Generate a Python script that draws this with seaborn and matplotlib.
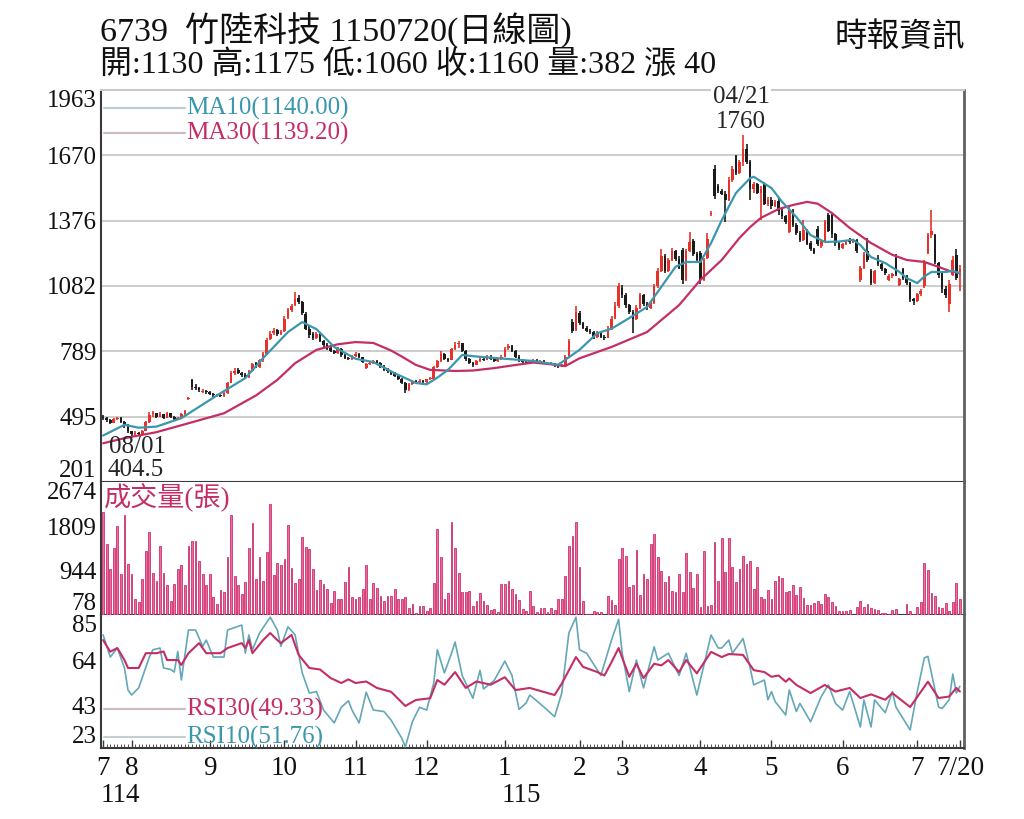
"""
Daily candlestick chart for 6739 竹陸科技 with volume and RSI panels.
"""

import matplotlib
matplotlib.use('Agg')
import matplotlib.pyplot as plt
import matplotlib.transforms as mtransforms
import seaborn as sns
import numpy as np

# ---------------------------------------------------------------- data
title_line = '6739  竹陸科技 1150720(日線圖)'
quote_line = '開:1130 高:1175 低:1060 收:1160 量:382 漲 40'
source_text = '時報資訊'

opens = [
    495, 490, 478, 468, 482, 488, 470, 455, 430, 415,
    422, 418, 432, 470, 505, 510, 495, 505, 490, 510,
    495, 485, 490, 505, 575, 660, 630, 625, 605, 612,
    605, 598, 588, 594, 588, 600, 648, 690, 705, 690,
    682, 672, 700, 735, 720, 748, 778, 845, 870, 885,
    865, 878, 940, 975, 995, 1030, 1010, 955, 890, 865,
    850, 865, 835, 815, 805, 790, 780, 800, 772, 760,
    755, 768, 775, 762, 712, 730, 735, 745, 735, 720,
    705, 698, 690, 678, 665, 645, 615, 640, 655, 650,
    655, 650, 662, 665, 718, 745, 775, 755, 750, 800,
    820, 825, 790, 752, 735, 728, 745, 755, 750, 765,
    755, 745, 752, 765, 805, 812, 790, 765, 748, 740,
    735, 745, 750, 740, 745, 735, 730, 735, 725, 722,
    728, 768, 920, 885, 960, 915, 895, 880, 875, 855,
    870, 855, 850, 890, 940, 990, 1075, 1040, 995, 965,
    935, 985, 1040, 1000, 985, 1005, 1080, 1150, 1215, 1150,
    1200, 1240, 1205, 1245, 1110, 1240, 1285, 1225, 1230, 1110,
    1210, 1405, 1610, 1530, 1510, 1495, 1470, 1560, 1665, 1590,
    1640, 1700, 1640, 1520, 1540, 1500, 1540, 1450, 1470, 1440,
    1465, 1420, 1395, 1325, 1420, 1355, 1320, 1290, 1335, 1275,
    1250, 1340, 1262, 1285, 1400, 1400, 1315, 1275, 1252, 1270,
    1285, 1280, 1290, 1110, 1165, 1240, 1150, 1095, 1210, 1180,
    1160, 1110, 1128, 1210, 1085, 1160, 1125, 1095, 1025, 1015,
    1045, 1080, 1230, 1310, 1310, 1185, 1140, 1070, 1000, 1130,
    1220, 1130,
]
highs = [
    500, 495, 485, 490, 495, 492, 475, 460, 432, 428,
    425, 435, 475, 515, 520, 512, 515, 508, 515, 512,
    498, 495, 510, 525, 585, 665, 640, 630, 620, 615,
    610, 602, 598, 598, 605, 650, 700, 715, 712, 695,
    690, 705, 735, 740, 755, 785, 850, 880, 895, 890,
    885, 945, 985, 1000, 1055, 1040, 1015, 965, 900, 875,
    875, 870, 840, 825, 810, 795, 810, 805, 778, 765,
    772, 785, 780, 765, 738, 742, 750, 748, 740, 725,
    712, 702, 695, 682, 670, 650, 645, 660, 660, 662,
    658, 666, 672, 722, 750, 790, 780, 760, 805, 830,
    835, 828, 795, 758, 740, 750, 762, 760, 772, 770,
    758, 756, 770, 808, 822, 815, 795, 770, 752, 745,
    750, 755, 752, 750, 748, 738, 740, 738, 728, 732,
    770, 842, 935, 990, 968, 920, 900, 888, 880, 878,
    872, 860, 900, 945, 1010, 1095, 1085, 1050, 1000, 975,
    995, 1050, 1048, 1010, 1012, 1090, 1165, 1250, 1225, 1210,
    1255, 1245, 1215, 1255, 1250, 1325, 1295, 1235, 1240, 1210,
    1320, 1420, 1625, 1540, 1520, 1510, 1570, 1620, 1672, 1650,
    1760, 1720, 1650, 1550, 1545, 1530, 1550, 1480, 1480, 1470,
    1480, 1430, 1400, 1440, 1430, 1365, 1330, 1380, 1340, 1285,
    1255, 1350, 1290, 1380, 1410, 1405, 1320, 1280, 1275, 1290,
    1300, 1295, 1295, 1170, 1235, 1300, 1160, 1155, 1220, 1185,
    1165, 1135, 1140, 1225, 1120, 1165, 1130, 1100, 1030, 1050,
    1068, 1200, 1320, 1425, 1315, 1190, 1145, 1080, 1110, 1215,
    1250, 1175,
]
lows = [
    480, 470, 462, 465, 478, 465, 445, 420, 404.5, 410,
    412, 415, 430, 468, 495, 490, 492, 485, 488, 490,
    480, 482, 488, 500, 570, 615, 615, 605, 600, 598,
    592, 585, 585, 582, 585, 598, 645, 680, 685, 672,
    665, 668, 695, 712, 715, 742, 775, 838, 862, 858,
    860, 875, 935, 965, 990, 1000, 950, 885, 850, 840,
    845, 830, 810, 795, 785, 775, 778, 765, 755, 748,
    750, 765, 758, 735, 708, 726, 730, 730, 715, 700,
    692, 684, 672, 660, 640, 600, 612, 636, 644, 646,
    645, 648, 658, 662, 715, 740, 750, 740, 748, 795,
    805, 785, 745, 730, 720, 725, 740, 745, 748, 750,
    740, 742, 750, 762, 795, 785, 760, 742, 735, 730,
    732, 740, 736, 738, 730, 725, 728, 720, 715, 720,
    726, 765, 870, 880, 905, 888, 875, 868, 845, 850,
    848, 840, 848, 885, 935, 985, 1030, 985, 955, 870,
    930, 980, 990, 975, 980, 1000, 1075, 1145, 1140, 1145,
    1195, 1195, 1160, 1090, 1105, 1235, 1215, 1190, 1090, 1105,
    1205, 1395, 1475, 1500, 1490, 1370, 1465, 1550, 1580, 1585,
    1620, 1630, 1470, 1500, 1495, 1380, 1445, 1440, 1430, 1435,
    1400, 1385, 1360, 1320, 1345, 1310, 1280, 1285, 1265, 1240,
    1225, 1260, 1255, 1280, 1325, 1300, 1260, 1245, 1248, 1265,
    1270, 1275, 1230, 1100, 1160, 1190, 1085, 1090, 1170, 1150,
    1130, 1105, 1120, 1125, 1080, 1110, 1085, 1010, 995, 1010,
    1035, 1075, 1225, 1300, 1180, 1120, 1050, 1030, 965, 1125,
    1110, 1060,
]
closes = [
    490, 478, 468, 482, 488, 470, 455, 430, 415, 420,
    418, 430, 470, 500, 510, 495, 505, 490, 510, 495,
    485, 490, 505, 520, 580, 630, 625, 615, 612, 605,
    598, 590, 594, 588, 600, 645, 690, 700, 690, 680,
    672, 700, 730, 720, 748, 775, 840, 868, 880, 865,
    875, 935, 975, 990, 1025, 1010, 960, 890, 860, 850,
    865, 835, 815, 800, 790, 780, 800, 770, 760, 755,
    768, 775, 762, 740, 730, 735, 745, 735, 720, 705,
    698, 688, 678, 665, 645, 615, 640, 655, 650, 655,
    650, 662, 668, 718, 745, 775, 755, 750, 800, 818,
    822, 790, 752, 735, 728, 745, 755, 750, 765, 755,
    745, 752, 765, 800, 812, 790, 765, 748, 740, 735,
    745, 750, 740, 745, 735, 730, 735, 725, 722, 728,
    765, 835, 880, 965, 915, 895, 880, 875, 855, 870,
    855, 850, 890, 935, 990, 1080, 1040, 995, 965, 935,
    985, 1040, 1000, 985, 1005, 1080, 1150, 1215, 1150, 1200,
    1240, 1205, 1165, 1110, 1240, 1280, 1225, 1200, 1110, 1200,
    1295, 1410, 1485, 1510, 1495, 1470, 1560, 1610, 1590, 1640,
    1700, 1640, 1520, 1540, 1500, 1520, 1450, 1470, 1440, 1460,
    1420, 1395, 1370, 1425, 1355, 1320, 1290, 1335, 1270, 1250,
    1230, 1270, 1285, 1370, 1330, 1315, 1275, 1252, 1270, 1285,
    1280, 1290, 1240, 1165, 1225, 1200, 1095, 1150, 1180, 1160,
    1140, 1128, 1135, 1135, 1115, 1120, 1095, 1025, 1015, 1045,
    1060, 1190, 1310, 1330, 1190, 1130, 1070, 1040, 1090, 1200,
    1120, 1160,
]
volumes = [
    2080, 1460, 975, 1380, 1810, 880, 2025, 1070, 880, 390,
    330, 780, 1320, 1690, 895, 740, 1420, 895, 660, 350,
    680, 975, 1050, 660, 1420, 1520, 1520, 1130, 870, 660,
    870, 430, 290, 560, 520, 1210, 2025, 830, 660, 480,
    720, 1390, 1880, 790, 1210, 740, 1300, 2240, 860, 1090,
    1050, 1170, 1830, 990, 700, 780, 1595, 1410, 1360, 975,
    560, 760, 680, 580, 310, 540, 400, 390, 720, 1010,
    430, 400, 430, 580, 1050, 390, 700, 610, 450, 350,
    450, 450, 580, 390, 390, 430, 220, 290, 120, 250,
    250, 160, 220, 700, 1765, 1210, 390, 500, 1900, 1390,
    895, 530, 520, 540, 250, 350, 500, 350, 270, 180,
    200, 140, 680, 680, 740, 590, 480, 370, 190, 150,
    550, 250, 140, 220, 220, 140, 220, 180, 390, 390,
    830, 1420, 1615, 1890, 1010, 350, 100, 100, 160, 140,
    130, 80, 450, 370, 270, 1170, 1390, 1220, 630, 660,
    1350, 460, 880, 790, 1460, 1650, 1210, 940, 730, 840,
    550, 520, 870, 530, 1280, 910, 610, 870, 240, 1320,
    250, 270, 1500, 740, 1580, 910, 1580, 1010, 720, 975,
    1220, 1070, 1130, 580, 1010, 430, 400, 560, 390, 740,
    840, 800, 530, 550, 660, 470, 630, 410, 270, 270,
    310, 350, 300, 480, 430, 330, 250, 150, 150, 150,
    180, 80, 240, 350, 240, 290, 220, 190, 180, 120,
    120, 90, 180, 190, 80, 80, 290, 160, 100, 240,
    330, 1090, 960, 500, 450, 240, 220, 310, 160, 340,
    700, 382,
]

# moving averages at the listed trading-day positions
ma10_idx = [0, 6, 10, 15, 22, 32, 40, 45, 52, 56, 60, 65, 71, 76, 82, 88, 91, 94, 97, 101,
            105, 109, 117, 121, 128, 134, 139, 143, 148, 153, 157, 161, 164, 168, 171, 174,
            178, 182, 183, 188, 191, 195, 199, 203, 207, 211, 213, 216, 220, 224, 226, 229,
            231, 233, 237, 239, 241]
ma10_val = [410, 458, 445, 450, 488, 590, 668, 758, 875, 920, 888, 808, 755, 740, 690, 646,
            640, 670, 705, 772, 765, 760, 750, 745, 728, 795, 870, 890, 938, 988, 1078, 1168,
            1190, 1190, 1275, 1378, 1500, 1567, 1573, 1522, 1460, 1392, 1311, 1280, 1282, 1290,
            1266, 1212, 1185, 1145, 1118, 1095, 1125, 1145, 1145, 1150, 1140]
ma30_idx = [0, 6, 15, 24, 34, 43, 49, 54, 60, 66, 71, 76, 81, 84, 88, 92, 99, 104, 110, 116,
            121, 126, 130, 134, 143, 153, 162, 168, 174, 179, 182, 185, 190, 194, 198, 201,
            205, 210, 216, 222, 226, 231, 235, 238, 241]
ma30_val = [375, 398, 425, 465, 510, 590, 660, 735, 795, 820, 830, 826, 792, 765, 727, 705,
            700, 702, 713, 727, 738, 730, 722, 757, 808, 875, 996, 1109, 1199, 1298, 1347,
            1388, 1428, 1446, 1460, 1452, 1410, 1343, 1275, 1222, 1199, 1190, 1168, 1150, 1139]

# RSI lines
rsi30_idx = [0, 2, 4, 6, 7, 10, 12, 15, 17, 18, 21, 22, 24, 27, 29, 33, 35, 39, 40, 41,
             42, 45, 47, 49, 50, 53, 55, 58, 61, 64, 67, 69, 71, 74, 77, 81, 85, 88, 92, 94,
             96, 99, 102, 105, 109, 113, 116, 120, 127, 129, 133, 135, 139, 141, 143, 145,
             148, 150, 152, 155, 157, 159, 162, 164, 167, 171, 174, 176, 180, 183, 186, 188,
             190, 192, 193, 195, 199, 203, 206, 210, 213, 216, 220, 222, 227, 232, 235, 238,
             240, 241]
rsi30_val = [73.3, 67.9, 69.6, 64, 60.3, 60.3, 67.2, 67.2, 68, 64, 64, 61.7, 67.2, 71.9, 67.2,
             67.2, 69.6, 71.9, 69.6, 73.3, 67.2, 73.3, 76.6, 73.3, 71.9, 75.7, 66.4, 60.3, 59.6,
             55.6, 53.3, 55, 53.3, 54, 51, 49.2, 42.6, 45.4, 46.2, 54.7, 52.5, 58.4, 51, 54,
             52.5, 56, 50, 51, 47.7, 53, 65.4, 60.8, 58.4, 56.8, 63, 69.6, 56.2, 62.3, 55.6,
             62.3, 61.5, 64, 58.4, 64, 57.8, 67.8, 65.4, 66.8, 66.4, 59.3, 58.4, 56.2, 56.8,
             53.9, 55.4, 52.4, 48.6, 52.4, 49.3, 51, 46.3, 48, 45.5, 48.6, 42.1, 53.9, 46.3,
             47, 51, 49.33]
rsi10_idx = [0, 2, 4, 6, 7, 8, 10, 13, 14, 16, 17, 19, 20, 21, 22, 24, 26, 28, 29, 31,
             34, 35, 39, 40, 41, 42, 44, 47, 49, 50, 52, 54, 56, 58, 60, 62, 65, 67, 69, 70,
             72, 74, 76, 79, 81, 84, 85, 87, 89, 91, 93, 94, 96, 98, 99, 101, 104, 106, 107,
             110, 113, 115, 117, 119, 120, 124, 127, 129, 131, 133, 134, 136, 140, 143, 145,
             146, 148, 150, 152, 155, 156, 159, 162, 164, 167, 171, 173, 174, 176, 177, 180,
             182, 183, 186, 187, 188, 189, 192, 193, 195, 196, 199, 202, 204, 206, 208, 210,
             213, 214, 216, 217, 220, 222, 223, 227, 229, 231, 232, 235, 236, 238, 239, 240,
             241]
rsi10_val = [75.7, 65.4, 69.6, 60.3, 50, 47.7, 51, 65.4, 68.8, 69.6, 60.3, 59.6, 58.4, 68,
             54.7, 78, 78, 70.4, 73.3, 65.4, 65.4, 78, 80.3, 67.2, 75.7, 68.8, 76.6, 84, 78,
             70.4, 79.5, 75.7, 58, 48.6, 49.3, 40.7, 34.7, 42, 45, 40.7, 34.7, 49, 40.7, 40,
             36, 27.6, 23.5, 35.3, 42, 40.7, 53.3, 68.8, 58, 67.2, 72.4, 56.8, 46.2, 59.2,
             50.5, 54.5, 63.5, 56.8, 41, 44, 47.7, 42.1, 37.6, 48.6, 76.6, 84, 68.8, 67.2,
             56.8, 73.3, 83, 67.2, 49.3, 64, 51, 70.2, 64, 67.2, 56.8, 67.2, 47.7, 75.7, 69.6,
             69.6, 73.3, 67.2, 74, 60.3, 52.4, 54.7, 45.5, 49.3, 44.7, 38.4, 50, 40, 43.8,
             35.2, 47, 52.4, 43.8, 40.7, 49.3, 32.8, 45.4, 32.8, 45.4, 39.5, 49.3, 42.1, 31.4,
             49.3, 65, 65.7, 42.1, 41.4, 45.5, 57.5, 48.6, 51.76]

legend_ma = ['MA10(1140.00)', 'MA30(1139.20)']
legend_rsi = ['RSI30(49.33)', 'RSI10(51.76)']
volume_title = '成交量(張)'
high_date, low_date = '04/21', '08/01'

price_ticks = [201, 495, 789, 1082, 1376, 1670, 1963]
volume_ticks = [78, 944, 1809, 2674]
rsi_ticks = [23, 43, 64, 85]

month_pos = [0, 8, 30, 51, 71, 91, 113, 134, 146, 168, 188, 208, 229, 241]
month_lbl = ['7', '8', '9', '10', '11', '12', '1', '2', '3', '4', '5', '6', '7', '7/20']
year_pos = [0, 113]
year_lbl = ['114', '115']

# ---------------------------------------------------------------- style
RED = '#e5322b'
BLACK = '#1b1b1b'
TEAL = '#3b97ae'
MAGENTA = '#c42e66'
VOL_FACE = '#ee6a9f'
VOL_EDGE = '#c0185a'
SPINE = '#3a3a3a'


def style_axis(ax, ticks, labels=None):
    """Common frame and y tick label styling for one panel."""
    ax.set_yticks(ticks)
    ax.set_yticklabels(labels if labels else [str(t) for t in ticks])
    ax.tick_params(axis='y', length=0, pad=3, labelsize=18, colors='#111111')
    lbls = ax.get_yticklabels()
    lbls[0].set_verticalalignment('bottom')
    lbls[-1].set_verticalalignment('top')
    for side in ['left', 'bottom']:
        ax.spines[side].set_color(SPINE)
        ax.spines[side].set_linewidth(1.5)
    ax.spines['right'].set_color('#606060')
    ax.spines['right'].set_linewidth(2)
    ax.spines['top'].set_visible(False)


def draw_candles(ax, days):
    o = np.array(opens, dtype=float)
    c = np.array(closes, dtype=float)
    colors = [RED if cc > oo else BLACK for oo, cc in zip(o, c)]
    ax.vlines(days, lows, highs, colors=colors, linewidth=1.2, zorder=3)
    body = np.maximum(np.abs(c - o), 5)
    ax.bar(days, body, bottom=np.minimum(o, c), width=0.74, color=colors,
           linewidth=0, zorder=3)


def main():
    sns.set_theme(style='white')
    plt.rcParams['font.family'] = ['Liberation Serif', 'Noto Sans CJK TC']

    n = len(closes)
    days = np.arange(n)

    fig = plt.figure(figsize=(10.24, 8.19), dpi=100)
    fig.patch.set_facecolor('white')
    left, width = 101 / 1024, 863 / 1024
    ax_p = fig.add_axes([left, 1 - 482 / 819, width, 392 / 819])
    ax_v = fig.add_axes([left, 1 - 615 / 819, width, 133 / 819], sharex=ax_p)
    ax_r = fig.add_axes([left, 1 - 748 / 819, width, 133 / 819], sharex=ax_p)

    # ---- price panel
    ax_p.set_ylim(price_ticks[0], price_ticks[-1])
    ax_p.set_xlim(-0.6, n + 0.15)
    ax_p.grid(axis='y', color='#c9c9c9', linewidth=1.3)
    ax_p.grid(axis='x', visible=False)
    draw_candles(ax_p, days)
    sns.lineplot(x=ma30_idx, y=ma30_val, ax=ax_p, color=MAGENTA, linewidth=1.6, zorder=4)
    sns.lineplot(x=ma10_idx, y=ma10_val, ax=ax_p, color=TEAL, linewidth=1.6, zorder=4)
    style_axis(ax_p, price_ticks)
    ax_p.spines['top'].set_visible(True)
    ax_p.spines['top'].set_color('#c9c9c9')
    ax_p.spines['top'].set_linewidth(1.5)
    ax_p.tick_params(axis='x', bottom=False, labelbottom=False)

    for k, (txt, col, lcol) in enumerate(zip(legend_ma, [TEAL, MAGENTA], ['#b9cdd2', '#cdb9c2'])):
        yy = 0.954 - k * 0.064
        ax_p.plot([0.003, 0.097], [yy, yy], transform=ax_p.transAxes, color=lcol, linewidth=1.5)
        ax_p.text(0.099, yy, txt, transform=ax_p.transAxes, color=col, fontsize=18,
                  va='center', ha='left')

    trans_p = mtransforms.blended_transform_factory(ax_p.transData, ax_p.transAxes)
    hi = int(np.argmax(highs))
    lo = int(np.argmin(lows))
    ax_p.text(hi - 0.5, 0.982, high_date, transform=trans_p, ha='center', va='center',
              fontsize=18, zorder=6, clip_on=False,
              bbox=dict(facecolor='white', edgecolor='none', pad=1))
    ax_p.text(hi - 0.5, 0.918, f'{highs[hi]:g}', transform=trans_p, ha='center',
              va='center', fontsize=18, zorder=6)
    ax_p.text(lo + 1.6, 0.089, low_date, transform=trans_p, ha='center', va='center',
              fontsize=18, zorder=6)
    ax_p.text(lo + 1.2, 0.031, f'{lows[lo]:g}', transform=trans_p, ha='center',
              va='center', fontsize=18, zorder=6)

    # ---- volume panel
    ax_v.bar(days, volumes, width=0.5, color=VOL_FACE, edgecolor=VOL_EDGE,
             linewidth=0.5, zorder=3)
    ax_v.set_ylim(volume_ticks[0], volume_ticks[-1])
    style_axis(ax_v, volume_ticks)
    ax_v.tick_params(axis='x', bottom=False, labelbottom=False)
    ax_v.text(0.003, 0.885, volume_title, transform=ax_v.transAxes, color=MAGENTA,
              fontsize=19.5, va='center', ha='left', zorder=6)

    # ---- RSI panel
    sns.lineplot(x=rsi10_idx, y=rsi10_val, ax=ax_r, color='#64a7b8', linewidth=1.2, zorder=3)
    sns.lineplot(x=rsi30_idx, y=rsi30_val, ax=ax_r, color=MAGENTA, linewidth=1.5, zorder=4)
    ax_r.set_ylim(rsi_ticks[0], rsi_ticks[-1])
    style_axis(ax_r, rsi_ticks)
    for k, (txt, col, lcol) in enumerate(zip(legend_rsi, [MAGENTA, TEAL], ['#cdb9c2', '#c2d0d4'])):
        yy = 0.29 - k * 0.21
        ax_r.plot([0.003, 0.097], [yy + 0.005, yy + 0.005], transform=ax_r.transAxes,
                  color=lcol, linewidth=1.5)
        ax_r.text(0.099, yy, txt, transform=ax_r.transAxes, color=col, fontsize=18,
                  va='center', ha='left', zorder=6)

    ax_r.set_xticks(month_pos)
    ax_r.set_xticklabels(month_lbl)
    ax_r.set_xticks(days, minor=True)
    ax_r.tick_params(axis='x', which='major', direction='in', length=6, width=1,
                     color=SPINE, pad=6, labelsize=19.5, labelcolor='#111111', bottom=True)
    ax_r.tick_params(axis='x', which='minor', direction='in', length=3, width=0.7,
                     color='#555555', bottom=True)
    trans_r = mtransforms.blended_transform_factory(ax_r.transData, ax_r.transAxes)
    for pos, lbl in zip(year_pos, year_lbl):
        ax_r.text(pos - 0.8, -0.355, lbl, transform=trans_r, ha='left', va='center',
                  fontsize=19.5, color='#111111')

    for ax in (ax_p, ax_v, ax_r):
        ax.set_xlabel('')
        ax.set_ylabel('')
        ax.set_facecolor('white')

    # ---- header
    fig.text(100 / 1024, 1 - 31 / 819, title_line, fontsize=24.5, ha='left', va='center',
             color='#111111')
    fig.text(100 / 1024, 1 - 66 / 819, quote_line, fontsize=23, ha='left', va='center',
             color='#111111')
    fig.text(965 / 1024, 1 - 37 / 819, source_text, fontsize=23.5, ha='right', va='center',
             color='#111111')

    fig.savefig('out.png', dpi=100, facecolor='white')


if __name__ == '__main__':
    main()
